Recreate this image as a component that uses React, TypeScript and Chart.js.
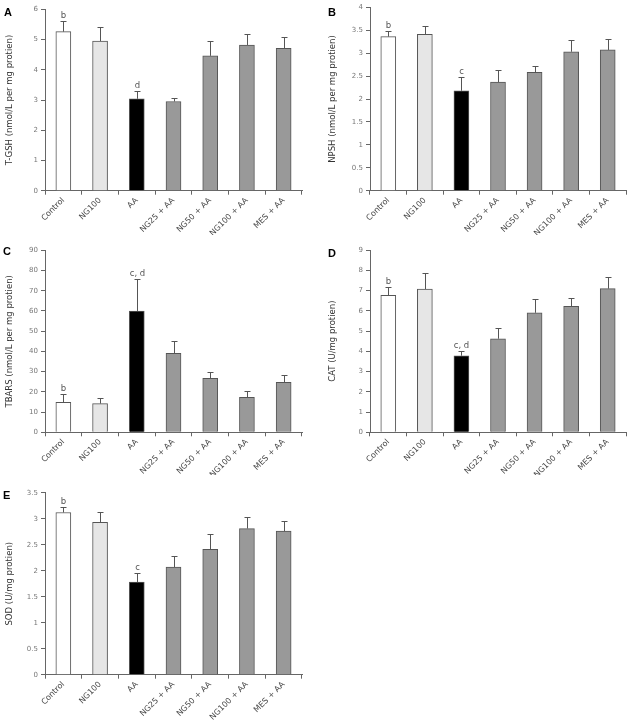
import React, { useEffect, useRef } from "react";
import { Chart, registerables } from "chart.js";

Chart.register(...registerables);

const categories = ["Control", "NG100", "AA", "NG25 + AA", "NG50 + AA", "NG100 + AA", "MES + AA"];
const barColors = ["#ffffff", "#e6e6e6", "#000000", "#999999", "#999999", "#999999", "#999999"];

// Panel A: T-GSH
const tgshMean = [5.26, 4.95, 3.04, 2.95, 4.46, 4.82, 4.71];
const tgshSd = [0.36, 0.47, 0.25, 0.12, 0.48, 0.37, 0.36];
const tgshNotes = ["b", "", "d", "", "", "", ""];

// Panel B: NPSH
const npshMean = [3.36, 3.41, 2.18, 2.37, 2.58, 3.03, 3.07];
const npshSd = [0.13, 0.19, 0.29, 0.26, 0.13, 0.25, 0.23];
const npshNotes = ["b", "", "c", "", "", "", ""];

// Panel C: TBARS
const tbarsMean = [14.8, 14.2, 60.0, 39.1, 26.7, 17.3, 24.7];
const tbarsSd = [4.0, 2.6, 16.0, 6.2, 3.0, 3.0, 3.7];
const tbarsNotes = ["b", "", "c, d", "", "", "", ""];

// Panel D: CAT
const catMean = [6.76, 7.07, 3.78, 4.62, 5.9, 6.22, 7.09];
const catSd = [0.43, 0.81, 0.23, 0.54, 0.68, 0.42, 0.57];
const catNotes = ["b", "", "c, d", "", "", "", ""];

// Panel E: SOD
const sodMean = [3.12, 2.93, 1.78, 2.07, 2.41, 2.81, 2.76];
const sodSd = [0.1, 0.19, 0.17, 0.22, 0.29, 0.23, 0.2];
const sodNotes = ["b", "", "c", "", "", "", ""];

const FONT = "'DejaVu Sans', Verdana, sans-serif";
const AXIS = "#666666";

type PanelProps = {
  letter: string;
  letterX: number;
  letterY: number;
  left: number;
  top: number;
  width: number;
  height: number;
  padTop: number;
  padLeft: number;
  padRight: number;
  yWidth: number;
  xHeight: number;
  max: number;
  step: number;
  title: string;
  means: number[];
  sds: number[];
  notes: string[];
};

function Panel(p: PanelProps) {
  const ref = useRef<HTMLCanvasElement | null>(null);
  useEffect(() => {
    if (!ref.current) return;
    const errorPlugin = {
      id: "errBars",
      afterDatasetsDraw(chart: any) {
        const ctx = chart.ctx;
        const meta = chart.getDatasetMeta(0);
        const ys = chart.scales.y;
        ctx.save();
        ctx.strokeStyle = "#555";
        ctx.lineWidth = 1;
        meta.data.forEach((bar: any, i: number) => {
          const x = Math.round(bar.x) + 0.5;
          const yTop = ys.getPixelForValue(p.means[i]);
          const yErr = ys.getPixelForValue(p.means[i] + p.sds[i]);
          const ye = Math.round(yErr) + 0.5;
          ctx.beginPath();
          ctx.moveTo(x, yTop);
          ctx.lineTo(x, ye);
          ctx.moveTo(x - 3, ye);
          ctx.lineTo(x + 3, ye);
          ctx.stroke();
          if (p.notes[i]) {
            ctx.fillStyle = "#555";
            ctx.font = `8.5px ${FONT}`;
            ctx.textAlign = "center";
            ctx.textBaseline = "bottom";
            ctx.fillText(p.notes[i], x, ye - 1);
          }
        });
        ctx.restore();
      },
    };
    const chart = new Chart(ref.current, {
      type: "bar",
      data: {
        labels: categories,
        datasets: [
          {
            data: p.means,
            backgroundColor: barColors,
            borderColor: "#555",
            borderWidth: 1,
            barThickness: 15,
          },
        ],
      },
      options: {
        animation: false,
        responsive: false,
        maintainAspectRatio: false,
        devicePixelRatio: 1,
        layout: { padding: { top: p.padTop, left: p.padLeft, right: p.padRight, bottom: 0 } },
        plugins: { legend: { display: false }, tooltip: { enabled: false } },
        scales: {
          x: {
            grid: { display: true, drawOnChartArea: false, offset: true, tickLength: 4, color: AXIS },
            border: { display: true, color: AXIS },
            ticks: {
              autoSkip: false,
              minRotation: 45,
              maxRotation: 45,
              padding: 1,
              color: "#444",
              font: { family: FONT, size: 8 },
            },
            afterFit: (s: any) => {
              s.height = p.xHeight;
            },
          },
          y: {
            min: 0,
            max: p.max,
            ticks: {
              stepSize: p.step,
              padding: 3,
              color: "#777",
              font: { family: FONT, size: 7 },
              callback: (v: any) => String(Math.round(Number(v) * 100) / 100),
            },
            grid: { display: true, drawOnChartArea: false, tickLength: 4, color: AXIS },
            border: { display: true, color: AXIS },
            title: {
              display: true,
              text: p.title,
              color: "#333",
              font: { family: FONT, size: 8.5 },
              padding: { top: 4, bottom: 4 },
            },
            afterFit: (s: any) => {
              s.width = p.yWidth;
            },
          },
        },
      } as any,
      plugins: [errorPlugin],
    });
    return () => chart.destroy();
  }, []);
  return (
    <>
      <canvas
        ref={ref}
        width={p.width}
        height={p.height}
        style={{ position: "absolute", left: p.left, top: p.top, width: p.width, height: p.height }}
      />
      <div
        style={{
          position: "absolute",
          left: p.letterX,
          top: p.letterY,
          fontFamily: "'Liberation Sans', Arial, sans-serif",
          fontWeight: "bold",
          fontSize: 11,
          lineHeight: "11px",
          color: "#000",
        }}
      >
        {p.letter}
      </div>
    </>
  );
}

export default function App() {
  return (
    <div style={{ position: "absolute", left: 0, top: 0, width: 630, height: 720, background: "#fff", overflow: "hidden" }}>
      <Panel letter="A" letterX={4} letterY={7} left={0} top={0} width={310} height={235}
        padTop={9.3} padLeft={1} padRight={8} yWidth={44} xHeight={44.3}
        max={6} step={1} title="T-GSH (nmol/L per mg protien)" means={tgshMean} sds={tgshSd} notes={tgshNotes} />
      <Panel letter="B" letterX={328} letterY={7} left={324} top={0} width={306} height={235}
        padTop={7.3} padLeft={0} padRight={4} yWidth={46} xHeight={44.3}
        max={4} step={0.5} title="NPSH (nmol/L per mg protien)" means={npshMean} sds={npshSd} notes={npshNotes} />
      <Panel letter="C" letterX={3} letterY={246} left={0} top={232} width={310} height={243}
        padTop={18.3} padLeft={1} padRight={8} yWidth={44} xHeight={42.7}
        max={90} step={10} title="TBARS (nmol/L per mg protien)" means={tbarsMean} sds={tbarsSd} notes={tbarsNotes} />
      <Panel letter="D" letterX={328} letterY={248} left={324} top={232} width={306} height={243}
        padTop={18} padLeft={0} padRight={4} yWidth={46} xHeight={42.7}
        max={9} step={1} title="CAT (U/mg protien)" means={catMean} sds={catSd} notes={catNotes} />
      <Panel letter="E" letterX={3} letterY={490} left={0} top={470} width={310} height={250}
        padTop={22.7} padLeft={1} padRight={8} yWidth={44} xHeight={45.3}
        max={3.5} step={0.5} title="SOD (U/mg protien)" means={sodMean} sds={sodSd} notes={sodNotes} />
    </div>
  );
}
